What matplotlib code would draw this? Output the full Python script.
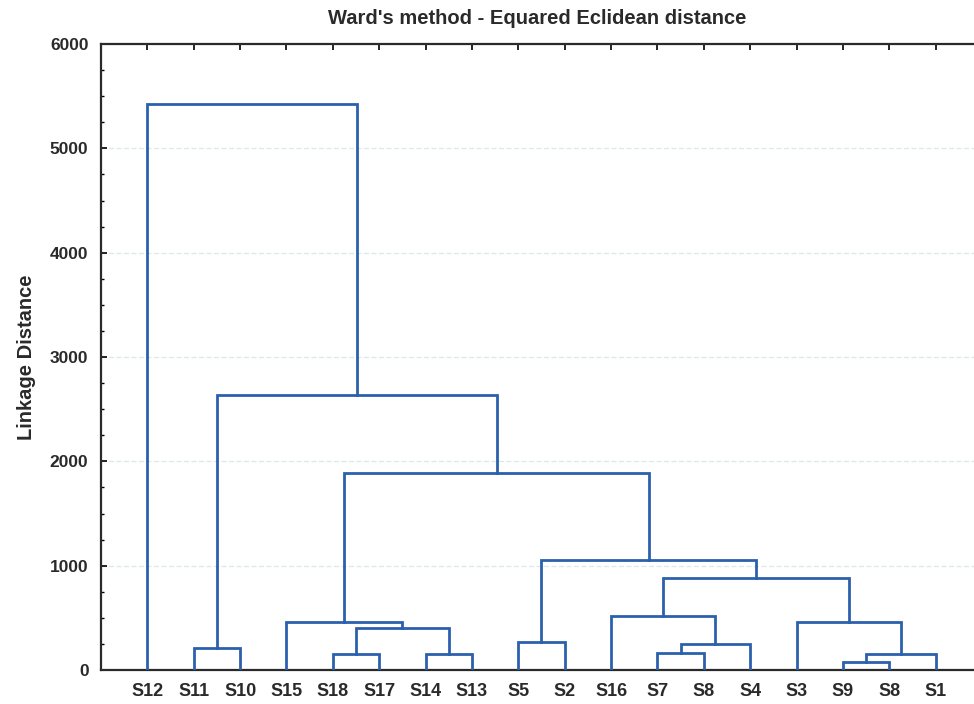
import matplotlib
matplotlib.use("Agg")
import matplotlib.pyplot as plt
from matplotlib.ticker import MultipleLocator

plt.rcParams['font.family'] = ['Liberation Sans', 'DejaVu Sans']

leaf_labels = ["S12", "S11", "S10", "S15", "S18", "S17", "S14", "S13", "S5",
               "S2", "S16", "S7", "S8", "S4", "S3", "S9", "S8", "S1"]

# merges: (left child id, right child id); new cluster ids start at len(leaf_labels)
merge_left = [15, 4, 6, 18, 11, 1, 22, 8, 19, 3, 14, 10, 29, 25, 27, 23, 0]
merge_right = [16, 5, 7, 17, 12, 2, 13, 9, 20, 26, 21, 24, 28, 30, 31, 32, 33]
merge_height = [74, 154, 154, 154, 160, 211, 246, 272, 403, 461, 461, 518,
                883, 1056, 1888, 2640, 5424]

line_color = "#2b60ac"
text_color = "#2a2a2a"

fig = plt.figure(figsize=(9.74, 7.04), dpi=100)
ax = fig.add_axes([101/974, 1-670/704, (982-101)/974, (670-44)/704])

n = len(leaf_labels)
xpos = {i: float(i) for i in range(n)}
ypos = {i: 0.0 for i in range(n)}
for k, (a, b, h) in enumerate(zip(merge_left, merge_right, merge_height)):
    cid = n + k
    xa, xb = xpos[a], xpos[b]
    ax.plot([xa, xa, xb, xb], [ypos[a], h, h, ypos[b]], color=line_color,
            lw=2.0, solid_joinstyle='miter', zorder=3)
    xpos[cid] = (xa + xb) / 2
    ypos[cid] = h

ax.set_xlim(-1, 18)
ax.set_ylim(0, 6000)
ax.set_xticks(range(n))
ax.set_xticklabels(leaf_labels, fontsize=13, fontweight='bold', color=text_color)
ax.yaxis.set_major_locator(MultipleLocator(1000))
ax.yaxis.set_minor_locator(MultipleLocator(250))
for lab in ax.get_yticklabels():
    lab.set_fontweight('bold')
ax.tick_params(axis='y', which='major', direction='in', length=4, width=1.2,
               labelsize=12.5, labelcolor=text_color, pad=9)
ax.tick_params(axis='y', which='minor', direction='in', length=2.5, width=1.0)
ax.tick_params(axis='x', which='major', direction='in', length=4, width=1.2,
               top=True, bottom=False, labelbottom=True, pad=9)

for y in range(1000, 6000, 1000):
    ax.axhline(y, color="#dbe9ec", lw=0.9, ls=(0, (4, 2)), zorder=1)

for side in ['left', 'top', 'bottom']:
    ax.spines[side].set_linewidth(1.6)
    ax.spines[side].set_color("#2a2a2a")
ax.spines['right'].set_visible(False)

ax.set_ylabel("Linkage Distance", fontsize=14.5, fontweight='bold', color=text_color,
              labelpad=10)
fig.text(537/974, 1-18/704, "Ward's method - Equared Eclidean distance",
         ha='center', va='center', fontsize=14.5, fontweight='bold', color=text_color)

fig.savefig("out.png", dpi=100)
